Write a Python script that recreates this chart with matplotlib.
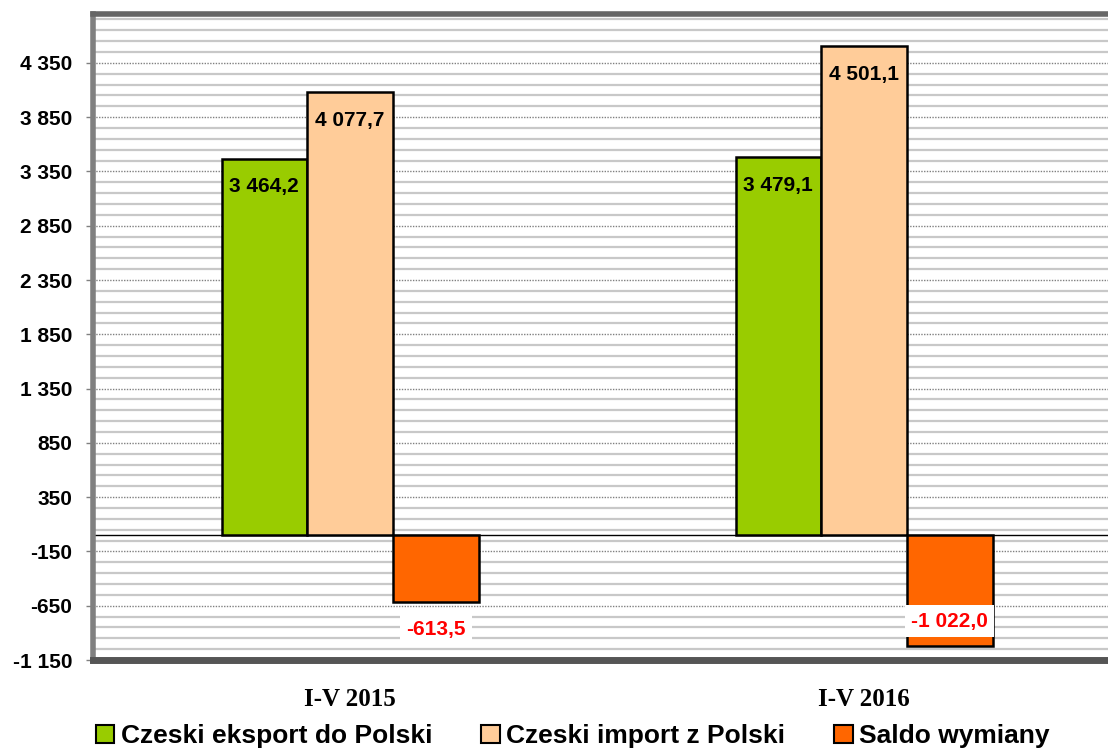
import numpy as np
from matplotlib import pyplot as plt
from matplotlib.ticker import FuncFormatter
from matplotlib.patches import Patch

periods = ["I-V 2015", "I-V 2016"]
series_names = ["Czeski eksport do Polski", "Czeski import z Polski", "Saldo wymiany"]
export_cz = [3464.2, 3479.1]
import_cz = [4077.7, 4501.1]
saldo = [-613.5, -1022.0]

colors = ["#99CC00", "#FFCC99", "#FF6600"]


def fmt_num(v, decimals=1):
    s = f"{abs(v):,.{decimals}f}".replace(",", " ").replace(".", ",")
    return ("-" if v < 0 else "") + s


fig = plt.figure(figsize=(11.08, 7.49), dpi=100)
# plot area runs past the right edge like in the original
ax = fig.add_axes([93 / 1108, 1 - 660 / 749, 1028 / 1108, 646 / 749])

x = np.arange(len(periods))
w = 1 / 6
ax.set_xlim(-0.5, 1.5)
ax.set_ylim(-1150, 4800)

# grid: light minor lines every 100, dotted major lines every 500
for v in np.arange(-1050, 4800, 100):
    if (v + 1150) % 500 != 0:
        ax.axhline(v, color="#C8C8C8", lw=1.6, zorder=0)
for v in np.arange(-650, 4800, 500):
    ax.axhline(v, color="#808080", lw=1, ls=(0, (1, 1)), zorder=0.5)
ax.axhline(0, color="black", lw=1, zorder=1)

data = [export_cz, import_cz, saldo]
for i, (vals, c) in enumerate(zip(data, colors)):
    ax.bar(x + (i - 1) * w, vals, w, color=c, edgecolor="black", lw=1.8, zorder=2)

lab_font = dict(fontsize=15, fontweight="bold", family="Liberation Sans")
for xi, v in zip(x - w, export_cz):
    ax.annotate(fmt_num(v), (xi, v), xytext=(0, -20), textcoords="offset points",
                ha="center", va="center", zorder=3, **lab_font)
for xi, v in zip(x, import_cz):
    ax.annotate(fmt_num(v), (xi, v), xytext=(0, -20), textcoords="offset points",
                ha="center", va="center", zorder=3, **lab_font)
saldo_offsets = [-20, 18]
for xi, v, off in zip(x + w, saldo, saldo_offsets):
    ax.annotate(fmt_num(v), (xi, v), xytext=(0, off), textcoords="offset points",
                ha="center", va="center", color="#FF0000", zorder=3,
                bbox=dict(boxstyle="square,pad=0.3", fc="white", ec="none"),
                **lab_font)

ax.set_yticks(np.arange(-1150, 4800, 500))
ax.yaxis.set_major_formatter(FuncFormatter(lambda v, p: fmt_num(v, 0)))
for lab in ax.get_yticklabels():
    lab.set_fontweight("bold")
    lab.set_family("Liberation Sans")
    lab.set_fontsize(15)
ax.tick_params(axis="y", length=5, color="#808080", width=1, pad=10)

ax.set_xticks(x)
ax.set_xticklabels(periods, fontsize=18, fontweight="bold", family="Liberation Serif")
ax.tick_params(axis="x", length=0, pad=20)

ax.spines["left"].set_color("#808080")
ax.spines["left"].set_linewidth(4)
ax.spines["top"].set_color("#666666")
ax.spines["top"].set_linewidth(4)
ax.spines["bottom"].set_color("#555555")
ax.spines["bottom"].set_linewidth(5)
ax.spines["right"].set_visible(False)

handles = [Patch(facecolor=c, edgecolor="black", lw=1.5) for c in colors]
fig.legend(handles, series_names, loc="center", bbox_to_anchor=(0.517, 1 - 736 / 749),
           ncol=3, frameon=False, handlelength=0.7, handleheight=0.7,
           handletextpad=0.25, columnspacing=1.85,
           prop={"family": "Liberation Sans", "weight": "bold", "size": 19})

fig.savefig("out.png", dpi=100)
